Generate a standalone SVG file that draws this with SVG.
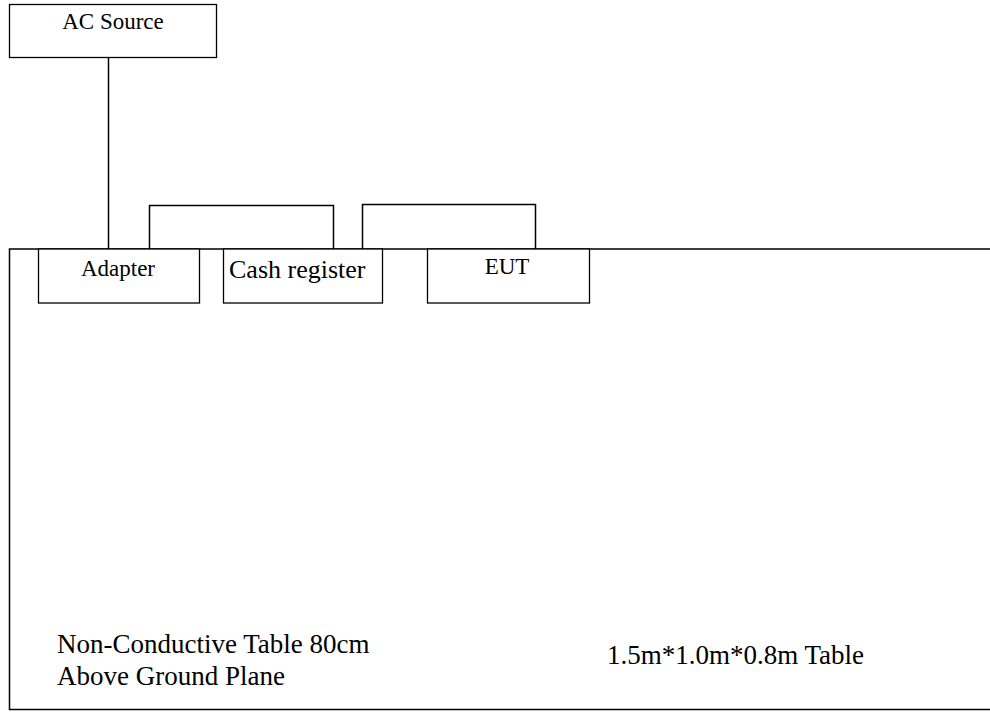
<svg xmlns="http://www.w3.org/2000/svg" width="990" height="713" viewBox="0 0 990 713">
<style>
.box{fill:#fff;stroke:#000;stroke-width:1.3}
.ln{fill:none;stroke:#000;stroke-width:1.5}
text{font-family:"Liberation Serif","Times New Roman",serif;fill:#000}
.s{font-size:23px}
.m{font-size:26px}
.l{font-size:27px}
</style>
<rect width="990" height="713" fill="#fff"/>
<g id="table">
<path class="ln" d="M992,249 H9.5 V709.5 H992"/>
<text class="l" x="57" y="653">Non-Conductive Table 80cm</text>
<text class="l" x="57" y="685">Above Ground Plane</text>
<text class="l" x="607" y="664">1.5m*1.0m*0.8m Table</text>
</g>
<g id="connectors">
<path class="ln" d="M108.5,57 V249"/>
<path class="ln" d="M149.5,249 V205.5 H333.5 V249"/>
<path class="ln" d="M362.5,249 V204.5 H535.5 V249"/>
</g>
<g id="ac-source">
<rect class="box" x="9.5" y="4.5" width="207" height="53"/>
<text class="s" x="113" y="29" text-anchor="middle">AC Source</text>
</g>
<g id="adapter">
<rect class="box" x="38.5" y="249" width="161" height="54"/>
<text class="s" x="118" y="276" text-anchor="middle">Adapter</text>
</g>
<g id="cash-register">
<rect class="box" x="223.5" y="249" width="159" height="54"/>
<text class="m" x="229" y="278">Cash register</text>
</g>
<g id="eut">
<rect class="box" x="427.5" y="249" width="162" height="54"/>
<text class="s" x="507" y="274" text-anchor="middle">EUT</text>
</g>
</svg>
